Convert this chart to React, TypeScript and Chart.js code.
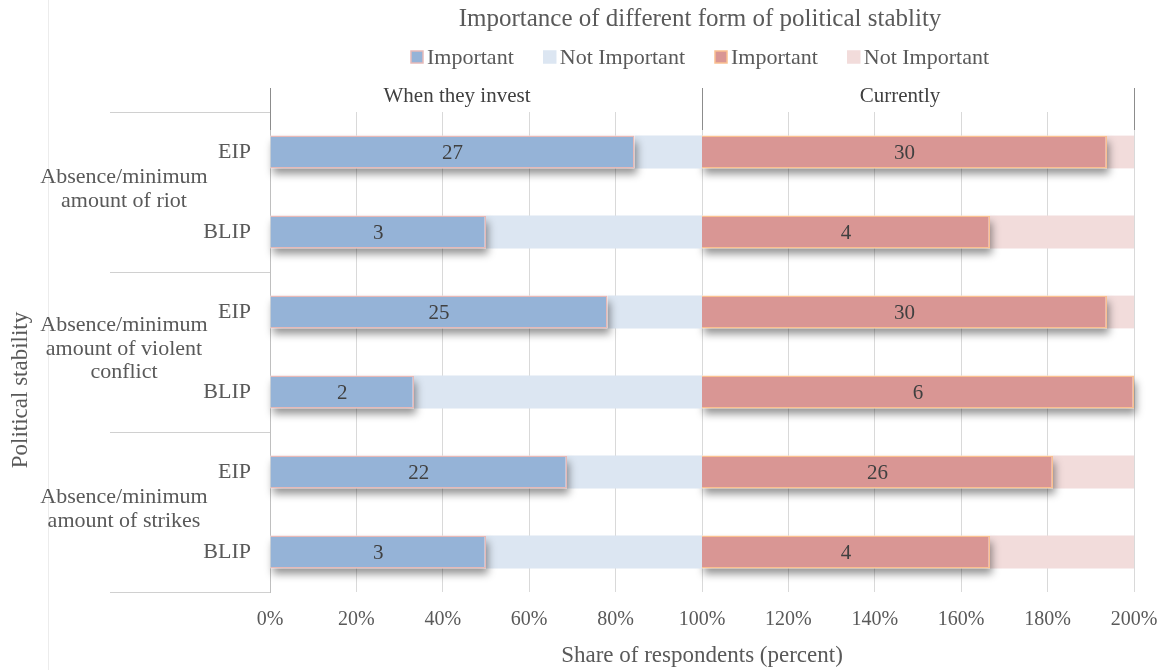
import { useEffect, useRef } from "react";
import { Chart, registerables } from "chart.js";

Chart.register(...registerables);

// Respondent groups and answers
const rowLabels = ["EIP", "BLIP", "EIP", "BLIP", "EIP", "BLIP"];
const groupLabels = [
  ["Absence/minimum", "amount of riot"],
  ["Absence/minimum", "amount of violent", "conflict"],
  ["Absence/minimum", "amount of strikes"],
];
const periodLabels = ["When they invest", "Currently"];
const seriesLabels = ["Important", "Not Important", "Important", "Not Important"];
const respondents = [32, 6, 32, 6, 32, 6];
const importantWhenInvest = [27, 3, 25, 2, 22, 3];
const importantCurrently = [30, 4, 30, 6, 26, 4];
const xTickStep = 20;
const xMax = 200;

const chartTitle = "Importance of different form of political stablity";
const xTitle = "Share of respondents (percent)";
const yTitle = "Political stability";

const FONT = "'Liberation Serif', 'Times New Roman', serif";
const TEXT = "#595959";
const fills = ["#95b3d7", "#dce6f2", "#d99694", "#f2dcdb"];
const strokes = ["#e6b9b8", "#dce6f2", "#fac090", "#f2dcdb"];

const share = (v: number[]) => v.map((n, i) => (n / respondents[i]) * 100);
const investShare = share(importantWhenInvest);
const currentShare = share(importantCurrently);

const decorPlugin = {
  id: "decor",
  beforeDatasetDraw(chart: any, args: any) {
    if (args.index !== 0 && args.index !== 2) return;
    const ctx = chart.ctx;
    ctx.save();
    ctx.shadowColor = "rgba(0,0,0,0.42)";
    ctx.shadowBlur = 8;
    ctx.shadowOffsetX = 2;
    ctx.shadowOffsetY = 6;
    ctx.fillStyle = "#ffffff";
    args.meta.data.forEach((el: any) => {
      const { x, y, base, height } = el.getProps(["x", "y", "base", "height"], true);
      ctx.fillRect(Math.min(x, base), y - height / 2, Math.abs(x - base), height);
    });
    ctx.restore();
  },
  afterDatasetsDraw(chart: any) {
    const ctx = chart.ctx;
    const counts = [importantWhenInvest, null, importantCurrently, null];
    ctx.save();
    ctx.font = `21px ${FONT}`;
    ctx.fillStyle = "#404040";
    ctx.textAlign = "center";
    ctx.textBaseline = "middle";
    counts.forEach((vals, di) => {
      if (!vals) return;
      chart.getDatasetMeta(di).data.forEach((el: any, i: number) => {
        const { x, y, base } = el.getProps(["x", "y", "base"], true);
        ctx.fillText(String(vals[i]), (x + base) / 2, y + 1);
      });
    });
    ctx.restore();
  },
  afterDraw(chart: any) {
    const ctx = chart.ctx;
    const area = chart.chartArea;
    const xs = chart.scales.x;
    const ys = chart.scales.y;
    const cx = (area.left + area.right) / 2;
    ctx.save();

    // faint frame line at the left
    ctx.strokeStyle = "#ececec";
    ctx.lineWidth = 1;
    ctx.beginPath();
    ctx.moveTo(48.5, 0);
    ctx.lineTo(48.5, chart.height);
    ctx.stroke();

    // title
    ctx.fillStyle = TEXT;
    ctx.textAlign = "center";
    ctx.textBaseline = "middle";
    ctx.font = `25px ${FONT}`;
    ctx.fillText(chartTitle, cx - 2, 19);

    // legend
    ctx.font = `22px ${FONT}`;
    const box = 12;
    const gap = 30;
    const widths = seriesLabels.map((l) => box + 4 + ctx.measureText(l).width);
    const total = widths.reduce((a, b) => a + b, 0) + gap * (widths.length - 1);
    let lx = cx - 2 - total / 2;
    const ly = 57;
    seriesLabels.forEach((l, i) => {
      ctx.fillStyle = fills[i];
      ctx.fillRect(lx, ly - box / 2, box, box);
      ctx.strokeStyle = strokes[i];
      ctx.lineWidth = 1.5;
      ctx.strokeRect(lx, ly - box / 2, box, box);
      ctx.fillStyle = TEXT;
      ctx.textAlign = "left";
      ctx.fillText(l, lx + box + 4, ly + 1);
      lx += widths[i] + gap;
    });

    // period header with its dividers
    ctx.strokeStyle = "#8c8c8c";
    ctx.lineWidth = 1;
    [0, 100, 200].forEach((v) => {
      const px = Math.round(xs.getPixelForValue(v)) + 0.5;
      ctx.beginPath();
      ctx.moveTo(px, area.top - 24);
      ctx.lineTo(px, area.top + 18);
      ctx.stroke();
    });
    ctx.font = `21px ${FONT}`;
    ctx.fillStyle = "#404040";
    ctx.textAlign = "center";
    const headerShift = [-29, -18];
    periodLabels.forEach((l, i) => {
      const px = xs.getPixelForValue(50 + i * 100) + headerShift[i];
      ctx.fillText(l, px, area.top - 16);
    });

    // group separators and group labels
    ctx.strokeStyle = "#d0d0d0";
    for (let k = 0; k <= groupLabels.length; k++) {
      const py = Math.round(ys.getPixelForValue(k * 2 - 0.5)) + 0.5;
      ctx.beginPath();
      ctx.moveTo(area.left - 160, py);
      ctx.lineTo(area.left, py);
      ctx.stroke();
    }
    ctx.fillStyle = TEXT;
    ctx.font = `22px ${FONT}`;
    const lh = 23.5;
    groupLabels.forEach((lines, g) => {
      const gy = (ys.getPixelForValue(g * 2) + ys.getPixelForValue(g * 2 + 1)) / 2 - 3;
      lines.forEach((t, j) => {
        ctx.fillText(t, area.left - 146, gy + (j - (lines.length - 1) / 2) * lh);
      });
    });

    // vertical axis title
    ctx.translate(21, (area.top + area.bottom) / 2 + 38);
    ctx.rotate(-Math.PI / 2);
    ctx.font = `23px ${FONT}`;
    ctx.fillText(yTitle, 0, 0);
    ctx.restore();
  },
};

export default function App() {
  const ref = useRef<HTMLCanvasElement | null>(null);

  useEffect(() => {
    if (!ref.current) return;
    const chart = new Chart(ref.current, {
      type: "bar",
      data: {
        labels: rowLabels,
        datasets: [
          {
            label: seriesLabels[0],
            data: investShare,
            backgroundColor: fills[0],
            borderColor: strokes[0],
            borderWidth: 1.5,
          },
          {
            label: seriesLabels[1],
            data: investShare.map((v) => 100 - v),
            backgroundColor: fills[1],
            borderWidth: 0,
          },
          {
            label: seriesLabels[2],
            data: currentShare,
            backgroundColor: fills[2],
            borderColor: strokes[2],
            borderWidth: 1.5,
          },
          {
            label: seriesLabels[3],
            data: currentShare.map((v) => 100 - v),
            backgroundColor: fills[3],
            borderWidth: 0,
          },
        ],
      },
      options: {
        indexAxis: "y",
        responsive: false,
        animation: false,
        layout: { padding: { top: 112, right: 29, left: 0, bottom: 0 } },
        datasets: { bar: { barPercentage: 0.41, categoryPercentage: 1 } },
        plugins: {
          legend: { display: false },
          title: { display: false },
          tooltip: { enabled: false },
        },
        scales: {
          x: {
            type: "linear",
            stacked: true,
            min: 0,
            max: xMax,
            ticks: {
              stepSize: xTickStep,
              color: TEXT,
              padding: 16,
              font: { family: FONT, size: 20 },
              callback: (v: any) => `${v}%`,
            },
            grid: { color: "#d9d9d9", drawTicks: false },
            border: { display: false },
            title: {
              display: true,
              text: xTitle,
              color: TEXT,
              font: { family: FONT, size: 23 },
              padding: { top: 0, bottom: 0 },
            },
            afterFit: (s: any) => {
              s.height = 78;
              s.paddingLeft = 0;
              s.paddingRight = 0;
            },
          },
          y: {
            type: "category",
            stacked: true,
            grid: { display: false, drawTicks: false },
            border: { display: true, color: "#bfbfbf" },
            ticks: { color: TEXT, padding: 19, font: { family: FONT, size: 22 } },
            afterFit: (s: any) => {
              s.width = 270;
            },
          },
        },
      },
      plugins: [decorPlugin],
    });
    return () => chart.destroy();
  }, []);

  return (
    <div style={{ position: "fixed", left: 0, top: 0, width: 1163, height: 670, background: "#fff" }}>
      <canvas ref={ref} width={1163} height={670} />
    </div>
  );
}
